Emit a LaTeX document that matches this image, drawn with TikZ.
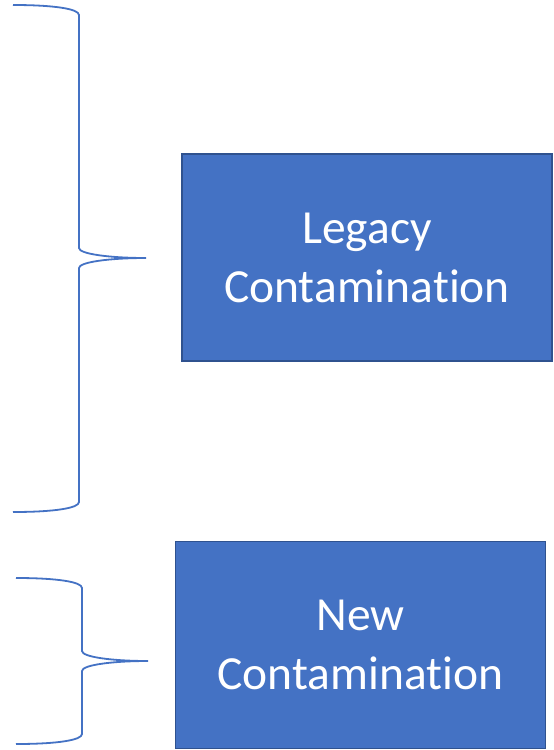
\documentclass[tikz,border=0pt]{standalone}
\usepackage{fontspec}
\setmainfont[Ligatures=NoCommon]{Carlito}
\usetikzlibrary{positioning}
\definecolor{boxblue}{HTML}{4472C4}
\definecolor{boxedge}{HTML}{2F528F}
\begin{document}
\begin{tikzpicture}[x=1pt, y=-1pt,
  stage/.style = {draw = boxedge, fill = boxblue, line width = 1.5pt, text = white,
                  align = center, inner sep = 0pt, minimum width = 370pt,
                  minimum height = 207pt, font = \fontsize{47.5}{59}\selectfont},
  brace/.style = {draw = boxblue, line width = 1.8pt}]
\useasboundingbox (0,0) rectangle (554,750);
\node[stage] (legacy) at (367,257.5) {Legacy\\Contamination};
\node[stage] (new)    at (360.5,645) {New\\Contamination};

\coordinate (tipL) at (146,258);
\coordinate (tipN) at (148,661);

\path[brace] (13,5) .. controls (55,5) and (79,9) .. (79,15)
             -- (79,248) .. controls (79,254) and (110,258) .. (tipL)
             .. controls (110,258) and (79,262) .. (79,268)
             -- (79,502) .. controls (79,508) and (55,512) .. (13,512);
\path[brace] (16,578) .. controls (58,578) and (82,582) .. (82,588)
             -- (82,651) .. controls (82,657) and (112,661) .. (tipN)
             .. controls (112,661) and (82,665) .. (82,671)
             -- (82,734) .. controls (82,740) and (58,744) .. (16,744);
\end{tikzpicture}
\end{document}
